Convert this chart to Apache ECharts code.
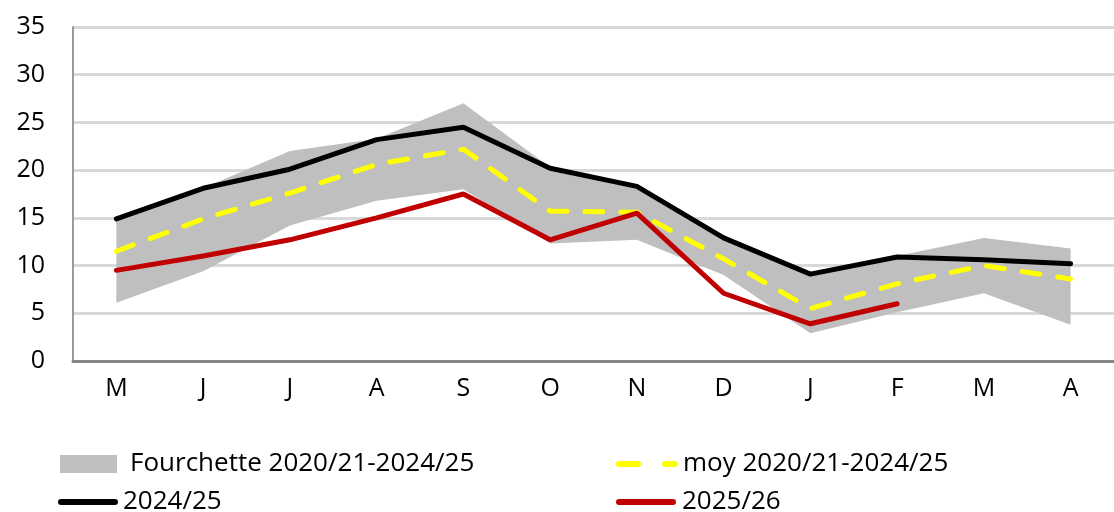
<!DOCTYPE html>
<html>
<head>
<meta charset="utf-8">
<script src="https://cdn.jsdelivr.net/npm/echarts@6/dist/echarts.min.js"></script>
<style>
  html, body { margin: 0; padding: 0; background: #fff; }
  #chart { width: 1114px; height: 512px; }
</style>
</head>
<body>
<div id="chart"></div>
<script>
// mois de la campagne (mai -> avril)
const months = ['M', 'J', 'J', 'A', 'S', 'O', 'N', 'D', 'J', 'F', 'M', 'A']
const yTicks = [0, 5, 10, 15, 20, 25, 30, 35]

// fourchette 2020/21-2024/25 (min / max)
const bandLow = [6.1, 9.4, 14.2, 16.8, 18.0, 12.3, 12.7, 9.0, 2.9, 5.1, 7.1, 3.8]
const bandHigh = [14.9, 18.1, 22.0, 23.3, 27.0, 20.3, 18.3, 12.9, 9.1, 11.0, 12.9, 11.8]
// moyenne 2020/21-2024/25
const moy = [11.5, 14.9, 17.6, 20.6, 22.2, 15.7, 15.6, 10.7, 5.5, 8.1, 10.0, 8.6]
const s2024 = [14.9, 18.1, 20.1, 23.2, 24.5, 20.2, 18.3, 12.9, 9.1, 10.9, 10.6, 10.2]
const s2025 = [9.5, 11.0, 12.7, 15.0, 17.5, 12.7, 15.5, 7.1, 3.9, 6.0]

const bandName = 'Fourchette 2020/21-2024/25'
const moyName = 'moy 2020/21-2024/25'
const font = '"Open Sans", "Liberation Sans", sans-serif'

const bandDiff = bandHigh.map((v, i) => +(v - bandLow[i]).toFixed(2))

const chart = echarts.init(document.getElementById('chart'))

const legendText = { color: '#000', fontSize: 26, fontFamily: font }
// icones de legende (trait plein / tirets)
const solidIcon = 'path://M3,0h54a3,3 0 0 1 0,6h-54a3,3 0 0 1 0,-6z'
const dashIcon = 'path://M3,0h19a3,3 0 0 1 0,6h-19a3,3 0 0 1 0,-6z M49,0h10a3,3 0 0 1 0,6h-10a3,3 0 0 1 0,-6z'

chart.setOption({
  animation: false,
  grid: { left: 73, right: 0, top: 27, bottom: 151 },
  legend: [
    { // bande grise
      data: [{ name: bandName, icon: 'rect' }],
      left: 55, top: 446, itemWidth: 57, itemHeight: 18,
      textStyle: Object.assign({ padding: [0, 0, 0, 8] }, legendText)
    },
    {
      data: [{ name: moyName, icon: dashIcon }],
      left: 611, top: 446, itemWidth: 62, itemHeight: 6,
      textStyle: legendText
    },
    {
      data: [{ name: '2024/25', icon: solidIcon }],
      left: 53, top: 484, itemWidth: 60, itemHeight: 6,
      textStyle: legendText
    },
    {
      data: [{ name: '2025/26', icon: solidIcon }],
      left: 611, top: 484, itemWidth: 62, itemHeight: 6,
      textStyle: legendText
    }
  ],
  xAxis: {
    type: 'category',
    data: months,
    boundaryGap: true,
    axisLine: { lineStyle: { color: '#868686', width: 3 } },
    axisTick: { show: false },
    axisLabel: { color: '#000', fontSize: 25, fontFamily: font, margin: 15 }
  },
  yAxis: {
    type: 'value',
    min: 0,
    max: 35,
    interval: 5,
    axisLine: { show: true, lineStyle: { color: '#9a9a9a', width: 2 } },
    axisTick: { show: false },
    splitLine: { lineStyle: { color: '#d9d9d9', width: 3 } },
    axisLabel: {
      color: '#000', fontSize: 25, fontFamily: font, margin: 28,
      formatter: v => (yTicks.indexOf(v) >= 0 ? String(v) : '')
    }
  },
  series: [
    {
      name: 'min',
      type: 'line',
      stack: 'band',
      data: bandLow,
      symbol: 'none',
      lineStyle: { opacity: 0 },
      silent: true
    },
    {
      name: bandName,
      type: 'line',
      stack: 'band',
      data: bandDiff,
      symbol: 'none',
      itemStyle: { color: '#bfbfbf' },
      lineStyle: { opacity: 0 },
      areaStyle: { color: '#bfbfbf', opacity: 1 }
    },
    {
      name: moyName,
      type: 'line',
      data: moy,
      symbol: 'none',
      itemStyle: { color: '#ffff00' },
      lineStyle: { color: '#ffff00', width: 5, type: [18, 18], cap: 'round' }
    },
    {
      name: '2024/25',
      type: 'line',
      data: s2024,
      symbol: 'none',
      itemStyle: { color: '#000' },
      lineStyle: { color: '#000', width: 5, cap: 'round' }
    },
    {
      name: '2025/26',
      type: 'line',
      data: s2025,
      symbol: 'none',
      itemStyle: { color: '#c00000' },
      lineStyle: { color: '#c00000', width: 5, cap: 'round' }
    }
  ]
})
</script>
</body>
</html>
